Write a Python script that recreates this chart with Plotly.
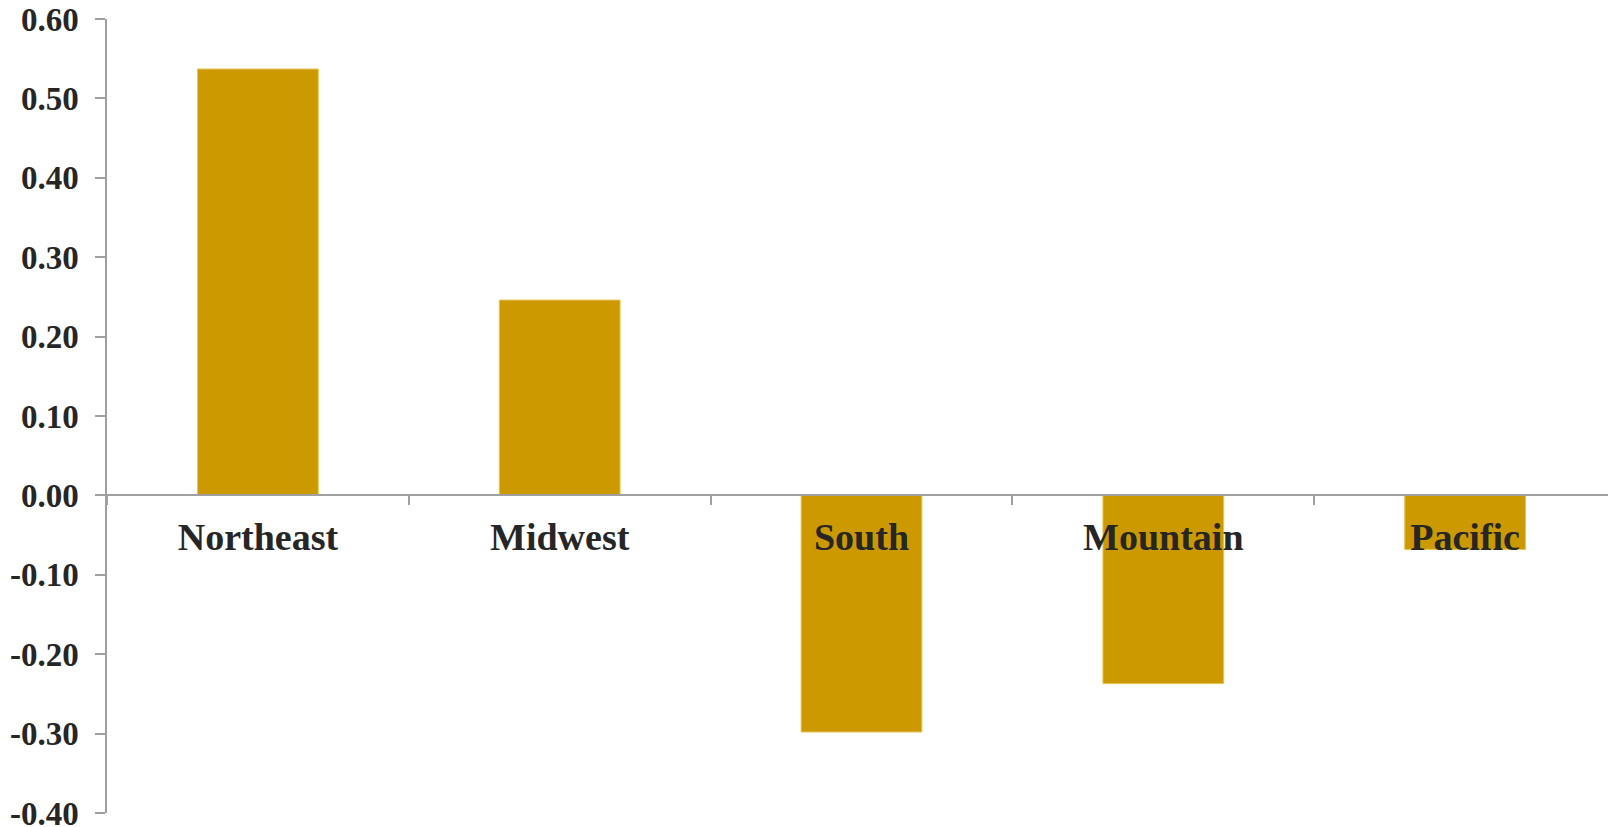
import plotly.graph_objects as go

regions = ["Northeast", "Midwest", "South", "Mountain", "Pacific"]
values = [0.537, 0.246, -0.298, -0.237, -0.068]

y_min, y_max = -0.4, 0.6
y_ticks = [-0.4, -0.3, -0.2, -0.1, 0.0, 0.1, 0.2, 0.3, 0.4, 0.5, 0.6]
y_tick_text = ["-0.40", "-0.30", "-0.20", "-0.10", "0.00", "0.10", "0.20", "0.30", "0.40", "0.50", "0.60"]

bar_color = "#CC9900"
axis_color = "#A0A0A0"
text_color = "#262626"
font_family = "Liberation Serif"

fig = go.Figure(
    go.Bar(
        x=regions,
        y=values,
        marker=dict(color=bar_color, line=dict(color="#E6C24E", width=1)),
        hoverinfo="x+y",
    )
)

# page body has an 8px default margin, so the figure is sized to fit the window
fig.update_layout(
    width=1608,
    height=819,
    margin=dict(l=99, r=0, t=11, b=14),
    paper_bgcolor="white",
    plot_bgcolor="white",
    bargap=0.6,
    showlegend=False,
    font=dict(family=font_family, size=34, color=text_color, weight="bold"),
)

fig.update_yaxes(
    range=[y_min, y_max],
    tickvals=y_ticks,
    ticktext=y_tick_text,
    showgrid=False,
    zeroline=False,
    showline=True,
    linecolor=axis_color,
    linewidth=1.5,
    ticks="outside",
    ticklen=10,
    tickwidth=1.5,
    tickcolor=axis_color,
    ticklabelstandoff=10,
    ticklabeloverflow="allow",
    automargin=False,
    tickfont=dict(family=font_family, size=33, color=text_color, weight="bold"),
)

fig.update_xaxes(
    anchor="free",
    position=(0 - y_min) / (y_max - y_min),
    showgrid=False,
    zeroline=False,
    showline=True,
    linecolor=axis_color,
    linewidth=1.5,
    ticks="outside",
    tickson="boundaries",
    ticklen=9,
    tickwidth=1.5,
    tickcolor=axis_color,
    ticklabelstandoff=8,
    ticklabeloverflow="allow",
    automargin=False,
    tickfont=dict(family=font_family, size=38, color=text_color, weight="bold"),
    layer="above traces",
)

fig.write_html("out.html")
